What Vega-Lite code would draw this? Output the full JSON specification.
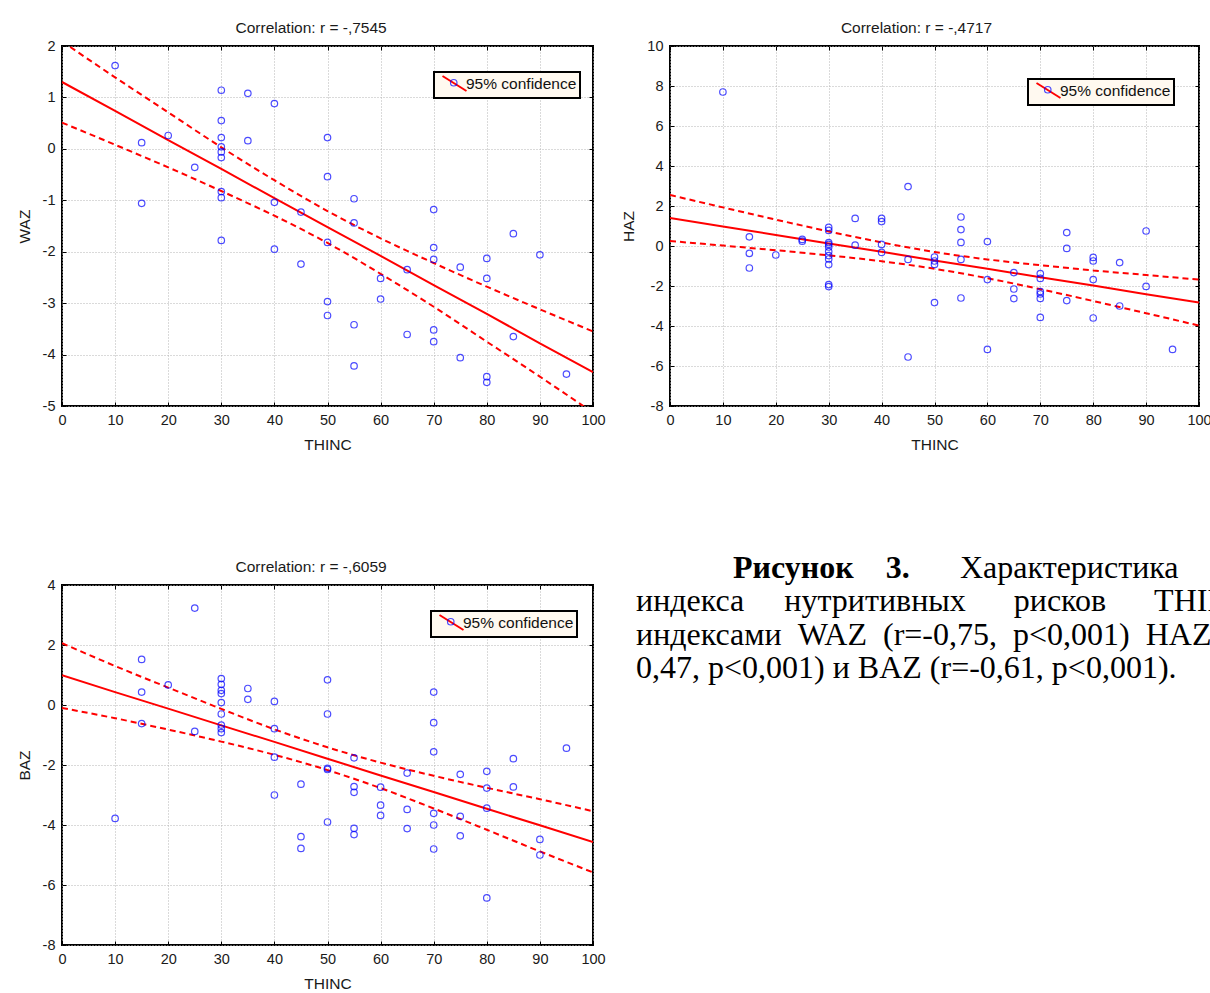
{
  "$schema": "https://vega.github.io/schema/vega-lite/v6.json",
  "background": "white",
  "padding": {"left": 16, "top": 19, "right": 0, "bottom": 0},
  "bounds": "flush",
  "spacing": 539,
  "resolve": {"scale": {"stroke": "independent", "shape": "independent"}, "legend": {"stroke": "independent", "shape": "independent"}},
  "datasets": {
    "waz": [
      {"THINC": 10, "WAZ": 1.62}, {"THINC": 15, "WAZ": 0.12}, {"THINC": 15, "WAZ": -1.06}, {"THINC": 20, "WAZ": 0.26}, {"THINC": 25, "WAZ": -0.36},
      {"THINC": 30, "WAZ": 1.14}, {"THINC": 30, "WAZ": 0.55}, {"THINC": 30, "WAZ": 0.22}, {"THINC": 30, "WAZ": 0.04}, {"THINC": 30, "WAZ": -0.06}, {"THINC": 30, "WAZ": -0.17}, {"THINC": 30, "WAZ": -0.83}, {"THINC": 30, "WAZ": -0.95}, {"THINC": 30, "WAZ": -1.78},
      {"THINC": 35, "WAZ": 1.08}, {"THINC": 35, "WAZ": 0.16},
      {"THINC": 40, "WAZ": 0.88}, {"THINC": 40, "WAZ": -1.04}, {"THINC": 40, "WAZ": -1.95},
      {"THINC": 45, "WAZ": -1.23}, {"THINC": 45, "WAZ": -2.24},
      {"THINC": 50, "WAZ": 0.22}, {"THINC": 50, "WAZ": -0.54}, {"THINC": 50, "WAZ": -1.82}, {"THINC": 50, "WAZ": -2.97}, {"THINC": 50, "WAZ": -3.24},
      {"THINC": 55, "WAZ": -0.97}, {"THINC": 55, "WAZ": -1.44}, {"THINC": 55, "WAZ": -3.42}, {"THINC": 55, "WAZ": -4.22},
      {"THINC": 60, "WAZ": -2.52}, {"THINC": 60, "WAZ": -2.92},
      {"THINC": 65, "WAZ": -2.35}, {"THINC": 65, "WAZ": -3.61},
      {"THINC": 70, "WAZ": -1.18}, {"THINC": 70, "WAZ": -1.92}, {"THINC": 70, "WAZ": -2.15}, {"THINC": 70, "WAZ": -3.52}, {"THINC": 70, "WAZ": -3.75},
      {"THINC": 75, "WAZ": -2.30}, {"THINC": 75, "WAZ": -4.06},
      {"THINC": 80, "WAZ": -2.13}, {"THINC": 80, "WAZ": -2.52}, {"THINC": 80, "WAZ": -4.43}, {"THINC": 80, "WAZ": -4.54},
      {"THINC": 85, "WAZ": -1.65}, {"THINC": 85, "WAZ": -3.65},
      {"THINC": 90, "WAZ": -2.06}, {"THINC": 95, "WAZ": -4.38}
    ],
    "waz_fit": [
      {"THINC": 0, "fit": 1.30, "lo": 0.51, "hi": 2.09},
      {"THINC": 10, "fit": 0.74, "lo": 0.08, "hi": 1.39},
      {"THINC": 20, "fit": 0.17, "lo": -0.36, "hi": 0.71},
      {"THINC": 30, "fit": -0.39, "lo": -0.82, "hi": 0.03},
      {"THINC": 40, "fit": -0.96, "lo": -1.30, "hi": -0.61},
      {"THINC": 50, "fit": -1.52, "lo": -1.83, "hi": -1.21},
      {"THINC": 60, "fit": -2.08, "lo": -2.43, "hi": -1.74},
      {"THINC": 70, "fit": -2.65, "lo": -3.07, "hi": -2.22},
      {"THINC": 80, "fit": -3.21, "lo": -3.75, "hi": -2.68},
      {"THINC": 90, "fit": -3.78, "lo": -4.43, "hi": -3.12},
      {"THINC": 100, "fit": -4.34, "lo": -5.13, "hi": -3.55}
    ],
    "haz": [
      {"THINC": 10, "HAZ": 7.7}, {"THINC": 15, "HAZ": 0.46}, {"THINC": 15, "HAZ": -0.37}, {"THINC": 15, "HAZ": -1.1}, {"THINC": 20, "HAZ": -0.45},
      {"THINC": 25, "HAZ": 0.33}, {"THINC": 25, "HAZ": 0.24},
      {"THINC": 30, "HAZ": 0.93}, {"THINC": 30, "HAZ": 0.78}, {"THINC": 30, "HAZ": 0.17}, {"THINC": 30, "HAZ": 0.08}, {"THINC": 30, "HAZ": -0.05}, {"THINC": 30, "HAZ": -0.28}, {"THINC": 30, "HAZ": -0.48}, {"THINC": 30, "HAZ": -0.65}, {"THINC": 30, "HAZ": -0.93}, {"THINC": 30, "HAZ": -1.93}, {"THINC": 30, "HAZ": -2.03},
      {"THINC": 35, "HAZ": 1.38}, {"THINC": 35, "HAZ": 0.04},
      {"THINC": 40, "HAZ": 1.38}, {"THINC": 40, "HAZ": 1.22}, {"THINC": 40, "HAZ": 0.08}, {"THINC": 40, "HAZ": -0.32},
      {"THINC": 45, "HAZ": 2.97}, {"THINC": 45, "HAZ": -0.67}, {"THINC": 45, "HAZ": -5.55},
      {"THINC": 50, "HAZ": -0.55}, {"THINC": 50, "HAZ": -0.75}, {"THINC": 50, "HAZ": -0.92}, {"THINC": 50, "HAZ": -2.83},
      {"THINC": 55, "HAZ": 1.45}, {"THINC": 55, "HAZ": 0.82}, {"THINC": 55, "HAZ": 0.18}, {"THINC": 55, "HAZ": -0.67}, {"THINC": 55, "HAZ": -2.6},
      {"THINC": 60, "HAZ": 0.22}, {"THINC": 60, "HAZ": -1.68}, {"THINC": 60, "HAZ": -5.17},
      {"THINC": 65, "HAZ": -1.33}, {"THINC": 65, "HAZ": -2.15}, {"THINC": 65, "HAZ": -2.63},
      {"THINC": 70, "HAZ": -1.38}, {"THINC": 70, "HAZ": -1.62}, {"THINC": 70, "HAZ": -2.28}, {"THINC": 70, "HAZ": -2.4}, {"THINC": 70, "HAZ": -2.62}, {"THINC": 70, "HAZ": -3.57},
      {"THINC": 75, "HAZ": 0.67}, {"THINC": 75, "HAZ": -0.12}, {"THINC": 75, "HAZ": -2.73},
      {"THINC": 80, "HAZ": -0.57}, {"THINC": 80, "HAZ": -0.75}, {"THINC": 80, "HAZ": -1.68}, {"THINC": 80, "HAZ": -3.6},
      {"THINC": 85, "HAZ": -0.83}, {"THINC": 85, "HAZ": -3.0},
      {"THINC": 90, "HAZ": 0.75}, {"THINC": 90, "HAZ": -2.02}, {"THINC": 95, "HAZ": -5.17}
    ],
    "haz_fit": [
      {"THINC": 0, "fit": 1.40, "lo": 0.25, "hi": 2.55},
      {"THINC": 10, "fit": 0.98, "lo": 0.02, "hi": 1.93},
      {"THINC": 20, "fit": 0.55, "lo": -0.21, "hi": 1.32},
      {"THINC": 30, "fit": 0.13, "lo": -0.47, "hi": 0.73},
      {"THINC": 40, "fit": -0.29, "lo": -0.76, "hi": 0.18},
      {"THINC": 50, "fit": -0.72, "lo": -1.14, "hi": -0.30},
      {"THINC": 60, "fit": -1.14, "lo": -1.61, "hi": -0.67},
      {"THINC": 70, "fit": -1.56, "lo": -2.16, "hi": -0.96},
      {"THINC": 80, "fit": -1.98, "lo": -2.75, "hi": -1.22},
      {"THINC": 90, "fit": -2.41, "lo": -3.36, "hi": -1.45},
      {"THINC": 100, "fit": -2.83, "lo": -3.98, "hi": -1.68}
    ],
    "baz": [
      {"THINC": 10, "BAZ": -3.78}, {"THINC": 15, "BAZ": 1.52}, {"THINC": 15, "BAZ": 0.43}, {"THINC": 15, "BAZ": -0.62}, {"THINC": 20, "BAZ": 0.67},
      {"THINC": 25, "BAZ": 3.23}, {"THINC": 25, "BAZ": -0.88},
      {"THINC": 30, "BAZ": 0.88}, {"THINC": 30, "BAZ": 0.69}, {"THINC": 30, "BAZ": 0.49}, {"THINC": 30, "BAZ": 0.38}, {"THINC": 30, "BAZ": 0.08}, {"THINC": 30, "BAZ": -0.30}, {"THINC": 30, "BAZ": -0.67}, {"THINC": 30, "BAZ": -0.79}, {"THINC": 30, "BAZ": -0.92},
      {"THINC": 35, "BAZ": 0.55}, {"THINC": 35, "BAZ": 0.19},
      {"THINC": 40, "BAZ": 0.12}, {"THINC": 40, "BAZ": -0.79}, {"THINC": 40, "BAZ": -1.74}, {"THINC": 40, "BAZ": -3.0},
      {"THINC": 45, "BAZ": -2.64}, {"THINC": 45, "BAZ": -4.39}, {"THINC": 45, "BAZ": -4.78},
      {"THINC": 50, "BAZ": 0.84}, {"THINC": 50, "BAZ": -0.30}, {"THINC": 50, "BAZ": -2.11}, {"THINC": 50, "BAZ": -2.15}, {"THINC": 50, "BAZ": -3.90},
      {"THINC": 55, "BAZ": -1.76}, {"THINC": 55, "BAZ": -2.72}, {"THINC": 55, "BAZ": -2.91}, {"THINC": 55, "BAZ": -4.11}, {"THINC": 55, "BAZ": -4.32},
      {"THINC": 60, "BAZ": -2.74}, {"THINC": 60, "BAZ": -3.34}, {"THINC": 60, "BAZ": -3.68},
      {"THINC": 65, "BAZ": -2.27}, {"THINC": 65, "BAZ": -3.48}, {"THINC": 65, "BAZ": -4.12},
      {"THINC": 70, "BAZ": 0.43}, {"THINC": 70, "BAZ": -0.59}, {"THINC": 70, "BAZ": -1.56}, {"THINC": 70, "BAZ": -3.61}, {"THINC": 70, "BAZ": -4.0}, {"THINC": 70, "BAZ": -4.80},
      {"THINC": 75, "BAZ": -2.31}, {"THINC": 75, "BAZ": -3.71}, {"THINC": 75, "BAZ": -4.36},
      {"THINC": 80, "BAZ": -2.21}, {"THINC": 80, "BAZ": -2.77}, {"THINC": 80, "BAZ": -3.44}, {"THINC": 80, "BAZ": -6.43},
      {"THINC": 85, "BAZ": -1.79}, {"THINC": 85, "BAZ": -2.73},
      {"THINC": 90, "BAZ": -4.48}, {"THINC": 90, "BAZ": -5.0}, {"THINC": 95, "BAZ": -1.44}
    ],
    "baz_fit": [
      {"THINC": 0, "fit": 0.99, "lo": -0.10, "hi": 2.06},
      {"THINC": 10, "fit": 0.43, "lo": -0.44, "hi": 1.30},
      {"THINC": 20, "fit": -0.12, "lo": -0.82, "hi": 0.58},
      {"THINC": 30, "fit": -0.68, "lo": -1.22, "hi": -0.13},
      {"THINC": 40, "fit": -1.23, "lo": -1.66, "hi": -0.81},
      {"THINC": 50, "fit": -1.79, "lo": -2.17, "hi": -1.41},
      {"THINC": 60, "fit": -2.35, "lo": -2.77, "hi": -1.92},
      {"THINC": 70, "fit": -2.90, "lo": -3.45, "hi": -2.36},
      {"THINC": 80, "fit": -3.46, "lo": -4.16, "hi": -2.76},
      {"THINC": 90, "fit": -4.01, "lo": -4.88, "hi": -3.14},
      {"THINC": 100, "fit": -4.57, "lo": -5.58, "hi": -3.54}
    ]
  },
  "vconcat": [
    {
      "bounds": "flush",
      "spacing": 77,
      "resolve": {"scale": {"stroke": "independent", "shape": "independent"}, "legend": {"stroke": "independent", "shape": "independent"}},
      "hconcat": [
        {
          "title": {"text": "Correlation: r = -,7545"},
          "width": 531, "height": 360,
          "resolve": {"axis": {"x": "independent", "y": "independent"}},
          "layer": [
            {
              "data": {"name": "waz_fit"},
              "mark": {"type": "line", "strokeWidth": 2, "clip": true},
              "encoding": {
                "x": {"field": "THINC", "type": "quantitative", "scale": {"domain": [0, 100], "nice": false}, "axis": {"orient": "top", "values": [0,10,20,30,40,50,60,70,80,90,100], "labels": false, "title": null, "grid": false}},
                "y": {"field": "fit", "type": "quantitative", "scale": {"domain": [-5, 2], "nice": false, "zero": false}, "axis": {"orient": "right", "values": [-5,-4,-3,-2,-1,0,1,2], "labels": false, "title": null, "grid": false}},
                "stroke": {"datum": "95% confidence", "type": "nominal", "scale": {"range": ["#ff0000"]}, "legend": {"orient": "none", "legendX": 372, "legendY": 26, "title": null, "symbolType": "M-1.6,-1L1.6,1", "symbolSize": 225, "symbolStrokeWidth": 2, "padding": 3, "symbolOffset": 9, "labelOffset": 3, "fillColor": "#fff9f0", "strokeColor": "#000000", "zindex": 1}}
              }
            },
            {
              "data": {"name": "waz_fit"},
              "mark": {"type": "line", "color": "#ff0000", "strokeWidth": 2, "strokeDash": [6, 4], "interpolate": "monotone", "clip": true},
              "encoding": {"x": {"field": "THINC", "type": "quantitative", "axis": null}, "y": {"field": "hi", "type": "quantitative", "axis": null}}
            },
            {
              "data": {"name": "waz_fit"},
              "mark": {"type": "line", "color": "#ff0000", "strokeWidth": 2, "strokeDash": [6, 4], "interpolate": "monotone", "clip": true},
              "encoding": {"x": {"field": "THINC", "type": "quantitative", "axis": null}, "y": {"field": "lo", "type": "quantitative", "axis": null}}
            },
            {
              "data": {"name": "waz"},
              "mark": {"type": "point", "filled": false, "color": "#0000ff", "size": 42, "strokeWidth": 1.2},
              "encoding": {
                "x": {"field": "THINC", "type": "quantitative", "axis": {"orient": "bottom", "values": [0,10,20,30,40,50,60,70,80,90,100], "title": "THINC", "grid": true}},
                "y": {"field": "WAZ", "type": "quantitative", "axis": {"orient": "left", "values": [-5,-4,-3,-2,-1,0,1,2], "title": "WAZ", "grid": true}},
                "shape": {"datum": " ", "type": "nominal", "scale": {"range": ["circle"]}, "legend": {"orient": "none", "legendX": 372, "legendY": 26, "title": null, "symbolSize": 42, "symbolStrokeColor": "#0000ff", "symbolFillColor": "transparent", "symbolStrokeWidth": 1.2, "padding": 3, "symbolOffset": 9, "fillColor": null, "strokeColor": null, "zindex": 2}}
              }
            }
          ]
        },
        {
          "title": {"text": "Correlation: r = -,4717"},
          "width": 529, "height": 360,
          "resolve": {"axis": {"x": "independent", "y": "independent"}},
          "layer": [
            {
              "data": {"name": "haz_fit"},
              "mark": {"type": "line", "strokeWidth": 2, "clip": true},
              "encoding": {
                "x": {"field": "THINC", "type": "quantitative", "scale": {"domain": [0, 100], "nice": false}, "axis": {"orient": "top", "values": [0,10,20,30,40,50,60,70,80,90,100], "labels": false, "title": null, "grid": false}},
                "y": {"field": "fit", "type": "quantitative", "scale": {"domain": [-8, 10], "nice": false, "zero": false}, "axis": {"orient": "right", "values": [-8,-6,-4,-2,0,2,4,6,8,10], "labels": false, "title": null, "grid": false}},
                "stroke": {"datum": "95% confidence", "type": "nominal", "scale": {"range": ["#ff0000"]}, "legend": {"orient": "none", "legendX": 358, "legendY": 33, "title": null, "symbolType": "M-1.6,-1L1.6,1", "symbolSize": 225, "symbolStrokeWidth": 2, "padding": 3, "symbolOffset": 9, "labelOffset": 3, "fillColor": "#fff9f0", "strokeColor": "#000000", "zindex": 1}}
              }
            },
            {
              "data": {"name": "haz_fit"},
              "mark": {"type": "line", "color": "#ff0000", "strokeWidth": 2, "strokeDash": [6, 4], "interpolate": "monotone", "clip": true},
              "encoding": {"x": {"field": "THINC", "type": "quantitative", "axis": null}, "y": {"field": "hi", "type": "quantitative", "axis": null}}
            },
            {
              "data": {"name": "haz_fit"},
              "mark": {"type": "line", "color": "#ff0000", "strokeWidth": 2, "strokeDash": [6, 4], "interpolate": "monotone", "clip": true},
              "encoding": {"x": {"field": "THINC", "type": "quantitative", "axis": null}, "y": {"field": "lo", "type": "quantitative", "axis": null}}
            },
            {
              "data": {"name": "haz"},
              "mark": {"type": "point", "filled": false, "color": "#0000ff", "size": 42, "strokeWidth": 1.2},
              "encoding": {
                "x": {"field": "THINC", "type": "quantitative", "axis": {"orient": "bottom", "values": [0,10,20,30,40,50,60,70,80,90,100], "title": "THINC", "grid": true}},
                "y": {"field": "HAZ", "type": "quantitative", "axis": {"orient": "left", "values": [-8,-6,-4,-2,0,2,4,6,8,10], "title": "HAZ", "grid": true}},
                "shape": {"datum": " ", "type": "nominal", "scale": {"range": ["circle"]}, "legend": {"orient": "none", "legendX": 358, "legendY": 33, "title": null, "symbolSize": 42, "symbolStrokeColor": "#0000ff", "symbolFillColor": "transparent", "symbolStrokeWidth": 1.2, "padding": 3, "symbolOffset": 9, "fillColor": null, "strokeColor": null, "zindex": 2}}
              }
            }
          ]
        }
      ]
    },
    {
      "bounds": "flush",
      "spacing": 43,
      "resolve": {"scale": {"stroke": "independent", "shape": "independent"}, "legend": {"stroke": "independent", "shape": "independent"}},
      "hconcat": [
        {
          "title": {"text": "Correlation: r = -,6059"},
          "width": 531, "height": 360,
          "resolve": {"axis": {"x": "independent", "y": "independent"}},
          "layer": [
            {
              "data": {"name": "baz_fit"},
              "mark": {"type": "line", "strokeWidth": 2, "clip": true},
              "encoding": {
                "x": {"field": "THINC", "type": "quantitative", "scale": {"domain": [0, 100], "nice": false}, "axis": {"orient": "top", "values": [0,10,20,30,40,50,60,70,80,90,100], "labels": false, "title": null, "grid": false}},
                "y": {"field": "fit", "type": "quantitative", "scale": {"domain": [-8, 4], "nice": false, "zero": false}, "axis": {"orient": "right", "values": [-8,-6,-4,-2,0,2,4], "labels": false, "title": null, "grid": false}},
                "stroke": {"datum": "95% confidence", "type": "nominal", "scale": {"range": ["#ff0000"]}, "legend": {"orient": "none", "legendX": 369, "legendY": 26, "title": null, "symbolType": "M-1.6,-1L1.6,1", "symbolSize": 225, "symbolStrokeWidth": 2, "padding": 3, "symbolOffset": 9, "labelOffset": 3, "fillColor": "#fff9f0", "strokeColor": "#000000", "zindex": 1}}
              }
            },
            {
              "data": {"name": "baz_fit"},
              "mark": {"type": "line", "color": "#ff0000", "strokeWidth": 2, "strokeDash": [6, 4], "interpolate": "monotone", "clip": true},
              "encoding": {"x": {"field": "THINC", "type": "quantitative", "axis": null}, "y": {"field": "hi", "type": "quantitative", "axis": null}}
            },
            {
              "data": {"name": "baz_fit"},
              "mark": {"type": "line", "color": "#ff0000", "strokeWidth": 2, "strokeDash": [6, 4], "interpolate": "monotone", "clip": true},
              "encoding": {"x": {"field": "THINC", "type": "quantitative", "axis": null}, "y": {"field": "lo", "type": "quantitative", "axis": null}}
            },
            {
              "data": {"name": "baz"},
              "mark": {"type": "point", "filled": false, "color": "#0000ff", "size": 42, "strokeWidth": 1.2},
              "encoding": {
                "x": {"field": "THINC", "type": "quantitative", "axis": {"orient": "bottom", "values": [0,10,20,30,40,50,60,70,80,90,100], "title": "THINC", "grid": true}},
                "y": {"field": "BAZ", "type": "quantitative", "axis": {"orient": "left", "values": [-8,-6,-4,-2,0,2,4], "title": "BAZ", "grid": true}},
                "shape": {"datum": " ", "type": "nominal", "scale": {"range": ["circle"]}, "legend": {"orient": "none", "legendX": 369, "legendY": 26, "title": null, "symbolSize": 42, "symbolStrokeColor": "#0000ff", "symbolFillColor": "transparent", "symbolStrokeWidth": 1.2, "padding": 3, "symbolOffset": 9, "fillColor": null, "strokeColor": null, "zindex": 2}}
              }
            }
          ]
        },
        {
          "width": 540, "height": 100,
          "view": {"stroke": null},
          "layer": [
            {
              "data": {"values": [{"line": 1, "text": "Рисунок\u00a0\u00a0\u00a0\u00a03."}]},
              "mark": {"type": "text", "align": "left", "baseline": "alphabetic", "font": "Liberation Serif", "fontSize": 32, "fontWeight": "bold", "color": "#000000", "dx": 97},
              "encoding": {
                "x": {"value": 0},
                "y": {"field": "line", "type": "quantitative", "scale": {"domain": [1.21, 4.21], "reverse": true, "nice": false, "zero": false}, "axis": null},
                "text": {"field": "text"}
              }
            },
            {
              "data": {"values": [{"line": 1, "text": "Характеристика"}]},
              "mark": {"type": "text", "align": "left", "baseline": "alphabetic", "font": "Liberation Serif", "fontSize": 32, "color": "#000000", "dx": 324},
              "encoding": {
                "x": {"value": 0},
                "y": {"field": "line", "type": "quantitative", "axis": null},
                "text": {"field": "text"}
              }
            },
            {
              "data": {"values": [
                {"line": 2, "text": "индекса\u00a0\u00a0\u00a0\u00a0\u00a0нутритивных\u00a0\u00a0\u00a0\u00a0\u00a0\u00a0рисков\u00a0\u00a0\u00a0\u00a0\u00a0\u00a0THINC"},
                {"line": 3, "text": "индексами\u00a0\u00a0WAZ\u00a0\u00a0(r=-0,75,\u00a0\u00a0p<0,001)\u00a0\u00a0HAZ"},
                {"line": 4, "text": "0,47, p<0,001) и BAZ (r=-0,61, p<0,001)."}
              ]},
              "mark": {"type": "text", "align": "left", "baseline": "alphabetic", "font": "Liberation Serif", "fontSize": 32, "color": "#000000"},
              "encoding": {
                "x": {"value": 0},
                "y": {"field": "line", "type": "quantitative", "axis": null},
                "text": {"field": "text"}
              }
            }
          ]
        }
      ]
    }
  ],
  "config": {
    "font": "Liberation Sans",
    "view": {"stroke": "#000000", "strokeWidth": 2},
    "axis": {
      "labelFont": "Liberation Sans", "labelFontSize": 14.5, "labelColor": "#1a1a1a",
      "titleFont": "Liberation Sans", "titleFontSize": 15.5, "titleFontWeight": "normal", "titleColor": "#1a1a1a",
      "domain": false, "tickColor": "#000000", "tickSize": -4, "tickWidth": 1,
      "labelPadding": 11, "labelFlush": false, "labelOverlap": false, "labelExpr": "'' + datum.value",
      "gridColor": "#b4b4b4", "gridDash": [1, 2], "gridWidth": 1
    },
    "axisX": {"titlePadding": 11},
    "axisY": {"titlePadding": 10},
    "title": {"font": "Liberation Sans", "fontSize": 15.5, "fontWeight": "normal", "color": "#1a1a1a", "offset": 2, "anchor": "middle", "frame": "bounds"},
    "legend": {"labelFont": "Liberation Sans", "labelFontSize": 15.5, "labelColor": "#111111", "strokeWidth": 2}
  }
}
